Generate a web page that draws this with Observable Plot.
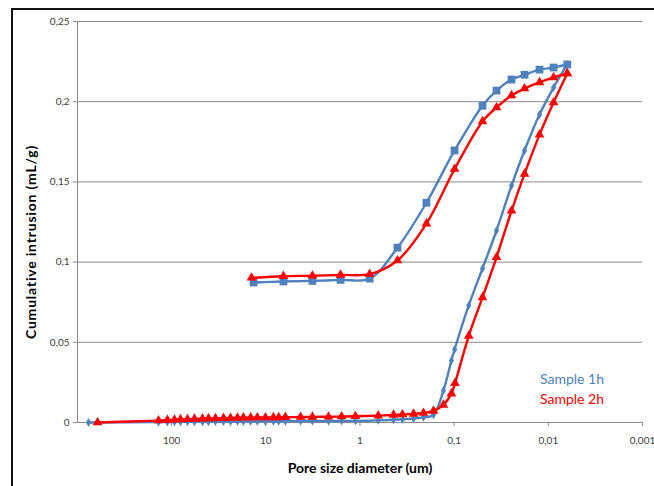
<!DOCTYPE html>
<html>
<head>
<meta charset="utf-8">
<script src="https://cdn.jsdelivr.net/npm/d3@7"></script>
<script src="https://cdn.jsdelivr.net/npm/@observablehq/plot@0.6"></script>
<style>
  html, body { margin: 0; padding: 0; background: #fff; }
  #wrap { position: relative; width: 654px; height: 486px; overflow: hidden; font-family: Lato, "Open Sans", sans-serif; }
  #frame { position: absolute; left: 11px; top: 8px; width: 700px; height: 600px; border-left: 2px solid #111; border-top: 2px solid #111; pointer-events: none; }
  .ytitle { position: absolute; left: 30px; top: 242px; transform: translate(-50%, -50%) rotate(-90deg); font-weight: bold; font-size: 14px; letter-spacing: 0.8px; white-space: nowrap; color: #000; }
  .xtitle { position: absolute; left: 360px; top: 467px; transform: translate(-50%, -50%); font-weight: bold; font-size: 14px; white-space: nowrap; color: #000; }
  .leg { position: absolute; left: 540px; font-size: 14px; white-space: nowrap; transform: translateY(-50%); }
</style>
</head>
<body>
<div id="wrap">
  <div id="chart"></div>
  <div id="frame"></div>
  <div class="ytitle">Cumulative intrusion (mL/g)</div>
  <div class="xtitle">Pore size diameter (um)</div>
  <div class="leg" id="leg1" style="top:378px"></div>
  <div class="leg" id="leg2" style="top:398px"></div>
</div>
<script>
// Series names & colours
const seriesNames = ["Sample 1h", "Sample 2h"];
const seriesColors = ["#4F81BD", "#FF0000"];

// Sample 1h — intrusion (diamonds)
const s1IntrusionD = [764, 138, 111, 93.3, 80.6, 67.9, 57.2, 47.1, 40.7, 34.3, 28.2, 23.7, 20.0, 17.3, 14.5, 12.3, 10.1, 8.3, 7.3, 6.2, 4.28, 3.2, 2.16, 1.57, 1.12, 0.64, 0.44, 0.354, 0.27, 0.212, 0.166, 0.130, 0.107, 0.099, 0.070, 0.050, 0.0355, 0.0246, 0.0179, 0.0124, 0.0088, 0.0063];
const s1IntrusionV = [0, 0.0003, 0.0003, 0.0004, 0.0004, 0.0004, 0.0005, 0.0005, 0.0005, 0.0006, 0.0006, 0.0006, 0.0007, 0.0007, 0.0007, 0.0007, 0.0008, 0.0008, 0.0008, 0.0008, 0.0009, 0.0009, 0.0009, 0.001, 0.001, 0.0013, 0.0017, 0.002, 0.0025, 0.0032, 0.0048, 0.020, 0.0386, 0.0455, 0.073, 0.096, 0.1197, 0.1477, 0.1696, 0.192, 0.2088, 0.2232];
// Sample 1h — extrusion (squares)
const s1ExtrusionD = [0.0063, 0.0088, 0.0124, 0.0179, 0.0246, 0.0355, 0.050, 0.099, 0.197, 0.40, 0.79, 1.61, 3.2, 6.5, 13.5];
const s1ExtrusionV = [0.2232, 0.2213, 0.2200, 0.2168, 0.2138, 0.2069, 0.1975, 0.1696, 0.137, 0.109, 0.0897, 0.0889, 0.0883, 0.0879, 0.0873];

// Sample 2h — intrusion (triangles)
const s2IntrusionD = [613, 138, 111, 93.3, 80.6, 67.9, 57.2, 47.1, 40.7, 34.3, 28.2, 23.7, 20.0, 17.3, 14.5, 12.3, 10.1, 8.3, 7.3, 6.2, 4.28, 3.2, 2.16, 1.57, 1.12, 0.64, 0.44, 0.354, 0.27, 0.212, 0.166, 0.130, 0.107, 0.098, 0.070, 0.050, 0.0355, 0.0246, 0.0179, 0.0124, 0.0088, 0.0063];
const s2IntrusionV = [0, 0.0012, 0.0015, 0.0017, 0.0019, 0.0020, 0.0022, 0.0024, 0.0025, 0.0026, 0.0027, 0.0028, 0.0029, 0.0030, 0.0030, 0.0031, 0.0031, 0.0032, 0.0032, 0.0033, 0.0034, 0.0035, 0.0036, 0.0037, 0.0039, 0.0043, 0.0047, 0.0050, 0.0054, 0.0059, 0.0072, 0.011, 0.018, 0.0245, 0.054, 0.078, 0.103, 0.132, 0.155, 0.1795, 0.1995, 0.2176];
// Sample 2h — extrusion (triangles)
const s2ExtrusionD = [0.0063, 0.0088, 0.0124, 0.0179, 0.0246, 0.0355, 0.050, 0.099, 0.197, 0.40, 0.79, 1.61, 3.2, 6.5, 14.2];
const s2ExtrusionV = [0.2176, 0.2151, 0.2120, 0.2082, 0.2039, 0.1964, 0.1877, 0.158, 0.124, 0.101, 0.0925, 0.0920, 0.0915, 0.0912, 0.0902];

// Axis ticks
const xTicks = [100, 10, 1, 0.1, 0.01, 0.001];
const xTickLabels = ["100", "10", "1", "0,1", "0,01", "0,001"];
const yTicks = [0, 0.05, 0.1, 0.15, 0.2, 0.25];
const yTickLabels = ["0", "0,05", "0,1", "0,15", "0,2", "0,25"];

const toRows = (D, V) => D.map((d, i) => ({d, v: V[i]}));
const s1i = toRows(s1IntrusionD, s1IntrusionV);
const s1e = toRows(s1ExtrusionD, s1ExtrusionV);
const s2i = toRows(s2IntrusionD, s2IntrusionV);
const s2e = toRows(s2ExtrusionD, s2ExtrusionV);

const blue = seriesColors[0], red = seriesColors[1];
const lw = 2.4;

const chart = Plot.plot({
  width: 654,
  height: 486,
  marginLeft: 77,
  marginRight: 12,
  marginTop: 21,
  marginBottom: 64,
  style: {fontFamily: "Lato, 'Open Sans', sans-serif", fontSize: "10px", background: "transparent"},
  x: {type: "log", domain: [1000, 0.001]},
  y: {domain: [0, 0.25]},
  marks: [
    Plot.gridY(yTicks, {stroke: "#8a8a8a", strokeOpacity: 1}),
    Plot.ruleX([1000], {stroke: "#8a8a8a"}),
    Plot.ruleY([0], {stroke: "#8a8a8a"}),
    Plot.axisX(xTicks, {tickSize: 4, tickPadding: 10, stroke: "#8a8a8a", fill: "#404040",
      tickFormat: (d) => xTickLabels[xTicks.indexOf(d)], label: null}),
    Plot.axisY(yTicks, {tickSize: 4, tickPadding: 4, stroke: "#8a8a8a", fill: "#404040",
      tickFormat: (d) => yTickLabels[yTicks.indexOf(d)], label: null}),
    Plot.line(s1i, {x: "d", y: "v", stroke: blue, strokeWidth: lw, curve: "catmull-rom"}),
    Plot.dot(s1i, {x: "d", y: "v", fill: blue, symbol: "diamond", r: 2.7}),
    Plot.line(s2i, {x: "d", y: "v", stroke: red, strokeWidth: lw, curve: "catmull-rom"}),
    Plot.dot(s2i, {x: "d", y: "v", fill: red, symbol: "triangle", r: 3.6}),
    Plot.line(s1e, {x: "d", y: "v", stroke: blue, strokeWidth: lw, curve: "catmull-rom"}),
    Plot.dot(s1e, {x: "d", y: "v", fill: blue, symbol: "square", r: 4.4}),
    Plot.line(s2e, {x: "d", y: "v", stroke: red, strokeWidth: lw, curve: "catmull-rom"}),
    Plot.dot(s2e, {x: "d", y: "v", fill: red, symbol: "triangle", r: 3.6})
  ]
});
document.getElementById("chart").appendChild(chart);

const l1 = document.getElementById("leg1");
l1.textContent = seriesNames[0]; l1.style.color = blue;
const l2 = document.getElementById("leg2");
l2.textContent = seriesNames[1]; l2.style.color = red;
</script>
</body>
</html>
